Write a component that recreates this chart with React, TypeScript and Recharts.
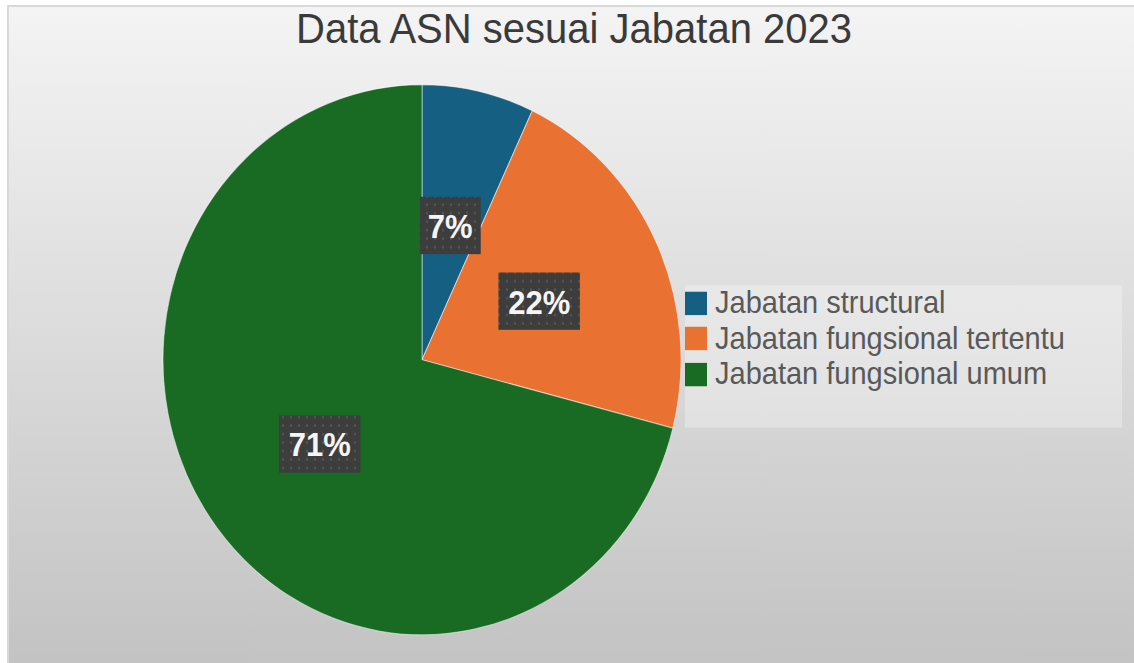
import { Cell, Legend, Pie, PieChart } from "recharts"

const categories = ["Jabatan structural", "Jabatan fungsional tertentu", "Jabatan fungsional umum"]
const values = [7, 22, 71]
const colors = ["#156082", "#E97132", "#196B24"]

const rows = categories.map((name, i) => ({ name, value: values[i], fill: colors[i] }))

const RAD = Math.PI / 180
const FONT = '"Liberation Sans", Arial, sans-serif'

// the reference picture is stretched vertically a little, so the card is drawn flat and scaled
const STRETCH = 1.062
const W = 1127
const H = 619.5

function renderLabel(props: any) {
  const { cx, cy, midAngle, outerRadius, percent } = props
  const r = outerRadius * 0.5
  const x = cx + r * Math.cos(-midAngle * RAD)
  const y = cy + r * Math.sin(-midAngle * RAD)
  const text = `${Math.round(percent * 100)}%`
  const w = 20 + text.length * 20.5
  const h = 54
  return (
    <g>
      <rect x={x - w / 2} y={y - h / 2} width={w} height={h} fill="url(#lblDots)" />
      <text
        x={x}
        y={y + 1}
        textAnchor="middle"
        dominantBaseline="central"
        fill="#f5f5f5"
        fontFamily={FONT}
        fontWeight="bold"
        fontSize={31}
      >
        {text}
      </text>
    </g>
  )
}

function renderLegend() {
  return (
    <div style={{ width: "100%", height: "100%", background: "rgba(255,255,255,0.3)" }}>
      {rows.map((row) => (
        <div key={row.name} style={{ display: "flex", alignItems: "center", height: 33.6 }}>
          <span style={{ width: 22, height: 22, background: row.fill, marginRight: 8, flex: "none" }} />
          <span style={{ fontFamily: FONT, fontSize: 29, color: "#595959", whiteSpace: "nowrap", lineHeight: "33px" }}>
            {row.name}
          </span>
        </div>
      ))}
    </div>
  )
}

export default function App() {
  return (
    <>
      <svg width={0} height={0} style={{ position: "absolute" }}>
        <defs>
          <pattern id="lblDots" width={8} height={8} patternUnits="userSpaceOnUse">
            <rect width={8} height={8} fill="#3d3d3d" />
            <rect x={3} y={3} width={2} height={2} fill="#575757" />
          </pattern>
        </defs>
      </svg>
      <div
        style={{
          position: "absolute",
          left: 7,
          top: 5,
          width: W,
          height: H,
          transform: `scaleY(${STRETCH})`,
          transformOrigin: "top left",
          background: "linear-gradient(to bottom, #f4f4f4, #c3c3c3)",
          boxShadow: "inset 2px 2px 0 #d9d9d9",
          overflow: "hidden",
        }}
      >
        <div
          style={{
            position: "absolute",
            left: 0,
            top: 2,
            width: 1134,
            textAlign: "center",
            fontFamily: FONT,
            fontSize: 40,
            lineHeight: "40px",
            color: "#3a3a3a",
            whiteSpace: "nowrap",
          }}
        >
          Data ASN sesuai Jabatan 2023
        </div>
        <div style={{ position: "absolute", left: 0, top: 0 }}>
          <PieChart width={W} height={H} margin={{ top: 0, right: 0, bottom: 0, left: 0 }}>
            <Pie
              data={rows}
              dataKey="value"
              nameKey="name"
              cx={415}
              cy={334}
              outerRadius={259}
              startAngle={90}
              endAngle={-270}
              stroke="rgba(255,255,255,0.5)"
              strokeWidth={1}
              label={renderLabel}
              labelLine={false}
              isAnimationActive={false}
            >
              {rows.map((row) => (
                <Cell key={row.name} fill={row.fill} />
              ))}
            </Pie>
            <Legend
              layout="vertical"
              align="right"
              verticalAlign="middle"
              content={renderLegend}
              wrapperStyle={{ left: 678, top: 264, right: "auto", bottom: "auto", width: 437, height: 134 }}
            />
          </PieChart>
        </div>
      </div>
    </>
  )
}
